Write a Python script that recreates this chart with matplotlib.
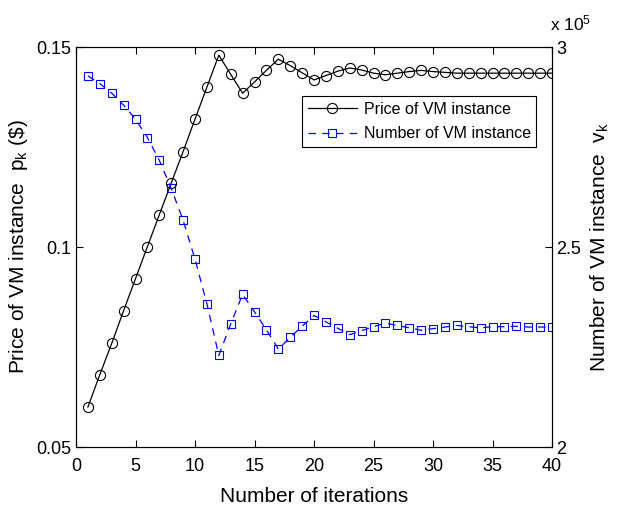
import numpy as np
import matplotlib
matplotlib.use('Agg')
import matplotlib.pyplot as plt

plt.rcParams['font.family'] = ['Liberation Sans', 'DejaVu Sans']
plt.rcParams['mathtext.fontset'] = 'custom'
plt.rcParams['mathtext.rm'] = 'Liberation Sans'
plt.rcParams['mathtext.it'] = 'Liberation Sans'
plt.rcParams['mathtext.bf'] = 'Liberation Sans:bold'

# iterations
iters = np.arange(1, 41)

# price of VM instance p_k ($)
price = [0.0600, 0.0681, 0.0759, 0.0841, 0.0921, 0.1001, 0.1081, 0.1160, 0.1239, 0.1320,
         0.1400, 0.1480, 0.1432, 0.1385, 0.1413, 0.1442, 0.1470, 0.1454, 0.1436, 0.1418,
         0.1429, 0.1440, 0.1448, 0.1443, 0.1435, 0.1431, 0.1435, 0.1439, 0.1442, 0.1439,
         0.1437, 0.1435, 0.1435, 0.1435, 0.1435, 0.1435, 0.1435, 0.1435, 0.1435, 0.1435]

# number of VM instance v_k (x 10^5)
number = [2.928, 2.909, 2.885, 2.855, 2.820, 2.774, 2.717, 2.647, 2.567, 2.470,
          2.358, 2.229, 2.308, 2.382, 2.338, 2.293, 2.245, 2.274, 2.302, 2.329,
          2.313, 2.297, 2.281, 2.291, 2.301, 2.310, 2.304, 2.298, 2.292, 2.296,
          2.300, 2.304, 2.301, 2.298, 2.301, 2.301, 2.302, 2.300, 2.300, 2.300]

fig = plt.figure(figsize=(6.22, 5.09), dpi=100)
ax1 = fig.add_axes([0.1222, 0.1218, 0.7653, 0.7855])
ax2 = ax1.twinx()

l1, = ax1.plot(iters, price, '-', color='k', lw=0.9, marker='o', ms=7.3,
               mfc='none', mec='k', mew=0.8, label='Price of VM instance')
l2, = ax2.plot(iters, number, '--', color='b', lw=0.9, dashes=(6, 5), marker='s', ms=6,
               mfc='none', mec='b', mew=0.8, label='Number of VM instance')

ax1.set_xlim(0, 40)
ax1.set_ylim(0.05, 0.15)
ax1.set_xticks(np.arange(0, 41, 5))
ax1.set_yticks([0.05, 0.1, 0.15])
ax1.set_yticklabels(['0.05', '0.1', '0.15'])
ax2.set_ylim(2, 3)
ax2.set_yticks([2, 2.5, 3])
ax2.set_yticklabels(['2', '2.5', '3'])

ax1.tick_params(direction='in', length=5, width=0.8, labelsize=13, top=True)
ax1.tick_params(axis='x', pad=8)
ax2.tick_params(direction='in', length=5, width=0.8, labelsize=13, pad=3)
for ax in (ax1, ax2):
    for s in ax.spines.values():
        s.set_linewidth(0.8)

ax1.set_xlabel('Number of iterations', fontsize=15, va='center')
ax1.xaxis.set_label_coords(0.5, -0.125)
ax1.set_ylabel(r'Price of VM instance  p$_{k}$ (\$)', fontsize=15, va='center')
ax1.yaxis.set_label_coords(-0.12, 0.5)
ax2.set_ylabel(r'Number of VM instance  v$_{k}$', fontsize=15, va='center')
ax2.yaxis.set_label_coords(1.101, 0.5)
ax2.text(0.995, 1.035, r'x 10$^{5}$', transform=ax2.transAxes, fontsize=12.5,
         ha='left', va='bottom')

leg = ax1.legend(handles=[l1, l2], loc='upper left', bbox_to_anchor=(0.475, 0.8775),
                 borderaxespad=0, fontsize=11.5, frameon=True, fancybox=False,
                 edgecolor='k', framealpha=1, handlelength=3.1, borderpad=0.35,
                 labelspacing=0.6, handletextpad=0.4)
leg.get_frame().set_linewidth(0.8)

fig.savefig('out.png', dpi=100)
